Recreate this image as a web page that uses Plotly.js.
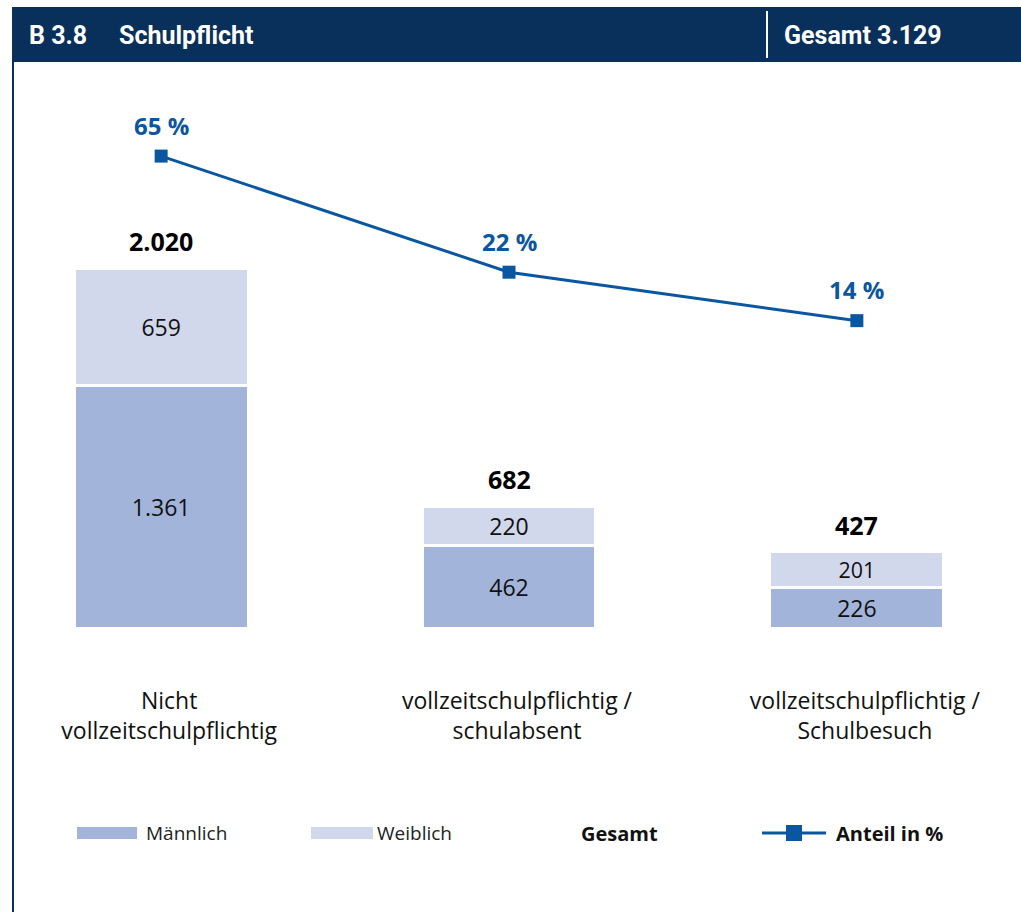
<!DOCTYPE html>
<html>
<head>
<meta charset="utf-8">
<script src="https://cdn.plot.ly/plotly-3.0.1.min.js"></script>
<style>
html,body{margin:0;padding:0;background:#fff;}
#chart{width:1021px;height:912px;}
</style>
</head>
<body>
<div id="chart"></div>
<script>
// ---- data ----
const categories = ["Nicht vollzeitschulpflichtig", "vollzeitschulpflichtig / schulabsent", "vollzeitschulpflichtig / Schulbesuch"];
const tickLabels = ["Nicht<br>vollzeitschulpflichtig", "vollzeitschulpflichtig /<br>schulabsent", "vollzeitschulpflichtig /<br>Schulbesuch"];
const maennlich = [1361, 462, 226];
const weiblich = [659, 220, 201];
const anteil = [65, 22, 14];
const gesamtAll = 3129;
const headerCode = "B 3.8";
const headerTitle = "Schulpflicht";

// ---- layout helpers (pixel -> paper) ----
const W = 1021, H = 912;
const mL = 22, mR = 25, mT = 100, mB = 284;
const pw = W - mL - mR, ph = H - mT - mB;
const px = x => (x - mL) / pw;
const py = y => (H - mB - y) / ph;

const totals = maennlich.map((m, i) => m + weiblich[i]);
const cMale = "#a3b4db", cFemale = "#d1d8ec", cLine = "#0b56a0", cNavy = "#08305b";
const font = "'Open Sans', 'Noto Sans', sans-serif";
const hfont = "Roboto, 'DejaVu Sans', sans-serif";

const traces = [
  {
    type: "bar", name: "Männlich", x: categories, y: maennlich,
    marker: {color: cMale, line: {color: "#ffffff", width: 3}},
    width: 0.5, texttemplate: "%{y:,}", textposition: "inside", insidetextanchor: "middle",
    textfont: {family: font, size: 23, color: "#111"}, hoverinfo: "skip"
  },
  {
    type: "bar", name: "Weiblich", x: categories, y: weiblich,
    marker: {color: cFemale, line: {color: "#ffffff", width: 3}},
    width: 0.5, texttemplate: "%{y:,}", textposition: "inside", insidetextanchor: "middle",
    textfont: {family: font, size: 23, color: "#111"}, hoverinfo: "skip"
  },
  {
    type: "scatter", mode: "lines+markers", name: "Anteil in %", x: categories, y: anteil,
    yaxis: "y2", line: {color: cLine, width: 3}, marker: {symbol: "square", size: 13, color: cLine},
    hoverinfo: "skip"
  }
];

const annotations = [];
categories.forEach((c, i) => {
  annotations.push({x: c, y: totals[i], xref: "x", yref: "y", text: "<b>" + totals[i].toLocaleString("de-DE") + "</b>",
    showarrow: false, yanchor: "middle", yshift: 27, font: {family: font, size: 25, color: "#000"}});
  annotations.push({x: c, y: Math.log10(anteil[i]), xref: "x", yref: "y2", text: "<b>" + anteil[i] + " %</b>",
    showarrow: false, yanchor: "middle", yshift: 31, font: {family: font, size: 24, color: cLine}});
});
// header texts
annotations.push({xref: "paper", yref: "paper", x: px(27), y: py(35), xanchor: "left", yanchor: "middle", showarrow: false,
  text: "<b>" + headerCode + "</b>", font: {family: hfont, size: 25, color: "#fff"}});
annotations.push({xref: "paper", yref: "paper", x: px(117), y: py(35), xanchor: "left", yanchor: "middle", showarrow: false,
  text: "<b>" + headerTitle + "</b>", font: {family: hfont, size: 25, color: "#fff"}});
annotations.push({xref: "paper", yref: "paper", x: px(782), y: py(35), xanchor: "left", yanchor: "middle", showarrow: false,
  text: "<b>Gesamt " + gesamtAll.toLocaleString("de-DE") + "</b>", font: {family: hfont, size: 25, color: "#fff"}});
// legend texts
const legY = 833;
annotations.push({xref: "paper", yref: "paper", x: px(144), y: py(legY), xanchor: "left", yanchor: "middle", showarrow: false,
  text: "Männlich", font: {family: font, size: 19, color: "#222"}});
annotations.push({xref: "paper", yref: "paper", x: px(375), y: py(legY), xanchor: "left", yanchor: "middle", showarrow: false,
  text: "Weiblich", font: {family: font, size: 19, color: "#222"}});
annotations.push({xref: "paper", yref: "paper", x: px(619), y: py(legY), xanchor: "center", yanchor: "middle", showarrow: false,
  text: "<b>Gesamt</b>", font: {family: font, size: 20, color: "#111"}});
annotations.push({xref: "paper", yref: "paper", x: px(834), y: py(legY), xanchor: "left", yanchor: "middle", showarrow: false,
  text: "<b>Anteil in %</b>", font: {family: font, size: 20, color: "#111"}});

const shapes = [
  // header bar
  {type: "rect", xref: "paper", yref: "paper", x0: px(12), x1: px(1021), y0: py(62), y1: py(7), fillcolor: cNavy, line: {width: 0}, layer: "below"},
  {type: "line", xref: "paper", yref: "paper", x0: px(767), x1: px(767), y0: py(58), y1: py(11), line: {color: "#ffffff", width: 2}},
  // left frame line
  {type: "line", xref: "paper", yref: "paper", x0: px(13), x1: px(13), y0: py(912), y1: py(62), line: {color: cNavy, width: 2}},
  // legend swatches
  {type: "rect", xref: "paper", yref: "paper", x0: px(77), x1: px(137), y0: py(839), y1: py(827), fillcolor: cMale, line: {width: 0}},
  {type: "rect", xref: "paper", yref: "paper", x0: px(311), x1: px(373), y0: py(839), y1: py(827), fillcolor: cFemale, line: {width: 0}},
  {type: "line", xref: "paper", yref: "paper", x0: px(762), x1: px(826), y0: py(legY), y1: py(legY), line: {color: cLine, width: 3}},
  {type: "rect", xref: "paper", yref: "paper", x0: px(786), x1: px(802), y0: py(legY + 8), y1: py(legY - 8), fillcolor: cLine, line: {width: 0}}
];

const layout = {
  width: W, height: H,
  margin: {l: mL, r: mR, t: mT, b: mB},
  paper_bgcolor: "#ffffff", plot_bgcolor: "rgba(0,0,0,0)",
  barmode: "stack", showlegend: false, separators: ",.", constraintext: "none",
  font: {family: font, color: "#111"},
  xaxis: {
    type: "category", range: [-0.4, 2.4], tickvals: categories, ticktext: tickLabels,
    showgrid: false, zeroline: false, showline: false, ticks: "",
    ticklabelstandoff: 57, ticklabelshift: 8, tickfont: {family: font, size: 23, color: "#111"}, fixedrange: true
  },
  yaxis: {range: [0, 2963], visible: false, fixedrange: true},
  yaxis2: {type: "log", range: [-0.0993, 2.0402], overlaying: "y", side: "right", visible: false, fixedrange: true},
  annotations: annotations,
  shapes: shapes
};

Plotly.newPlot("chart", traces, layout, {displayModeBar: false, staticPlot: true});
</script>
</body>
</html>
